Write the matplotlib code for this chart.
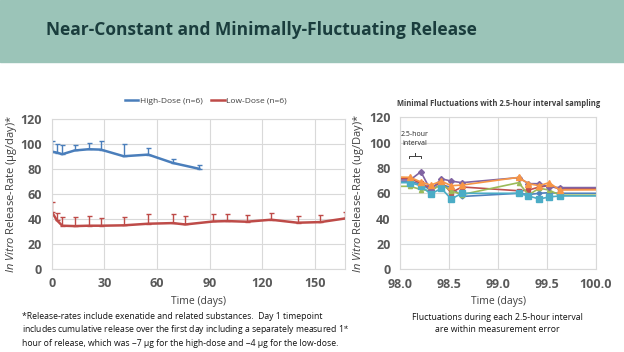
import numpy as np
import matplotlib
matplotlib.use('Agg')
import matplotlib.pyplot as plt
from matplotlib.patches import Rectangle

plt.rcParams['font.family'] = ['Open Sans', 'DejaVu Sans']
plt.rcParams['mathtext.fontset'] = 'custom'
plt.rcParams['mathtext.rm'] = 'Open Sans'
plt.rcParams['mathtext.it'] = 'Open Sans:italic'

# left chart: in vitro release rate, mean with upper error bar
high_days = [0, 3, 6, 13, 21, 28, 41, 55, 69, 84]
high_rate = [94.1, 93.3, 92.0, 95.0, 96.0, 95.7, 90.4, 91.7, 85.0, 80.3]
high_err = [8.5, 7.2, 7.0, 4.7, 5.0, 6.9, 9.6, 5.1, 3.3, 2.7]

low_days = [0, 3, 6, 13, 21, 28, 41, 55, 69, 76, 92, 100, 111, 125, 140, 153, 167]
low_rate = [45.9, 39.0, 34.7, 34.4, 34.7, 34.7, 35.0, 36.3, 36.8, 35.7, 38.1, 38.4, 37.9, 39.5, 37.1, 37.6, 40.5]
low_err = [8.0, 5.5, 6.9, 7.2, 7.7, 6.3, 6.6, 7.5, 7.5, 7.0, 6.2, 5.9, 5.6, 5.6, 5.3, 5.4, 5.4]

# right chart: 2.5-hour interval sampling, six units
fine_t = [97.9, 98.1, 98.21, 98.31, 98.42, 98.52, 98.63, 99.21, 99.31, 99.42, 99.52, 99.63, 100.6]
unit_rates = {
    'blue': [69.0, 69.0, 67.5, 62.5, 67.0, 64.5, 57.5, 60.0, 59.0, 60.0, 60.5, 60.0, 60.0],
    'red': [71.5, 71.5, 68.0, 64.0, 69.0, 60.5, 65.0, 62.0, 62.5, 65.0, 66.0, 63.5, 63.5],
    'green': [65.5, 65.5, 63.0, 62.0, 67.0, 62.0, 59.0, 68.4, 58.7, 64.0, 62.6, 58.5, 58.5],
    'purple': [70.5, 70.5, 77.0, 62.5, 71.5, 69.6, 68.4, 72.4, 67.6, 67.6, 65.0, 64.5, 64.5],
    'teal': [68.4, 68.4, 66.0, 59.4, 63.9, 55.5, 60.0, 60.0, 57.9, 55.5, 57.1, 57.9, 57.9],
    'orange': [73.0, 72.6, 69.0, 66.5, 69.6, 66.0, 66.5, 72.6, 67.6, 66.0, 68.4, 62.6, 63.0],
}
unit_colors = {'blue': '#4F81BD', 'red': '#C0504D', 'green': '#9BBB59',
               'purple': '#8064A2', 'teal': '#4BACC6', 'orange': '#F79646'}
unit_markers = {'blue': ('D', 2.5), 'red': ('s', 2.5), 'green': ('^', 3),
                'purple': ('D', 3), 'teal': ('s', 4), 'orange': ('^', 4)}

bracket_x = [98.09, 98.09, 98.15, 98.15, 98.15, 98.21, 98.21]
bracket_y = [87.5, 89.5, 89.5, 91.5, 89.5, 89.5, 87.5]

grid_c = '#D9D9D9'
tick_c = '#595959'

fig = plt.figure(figsize=(6.24, 3.52), dpi=100)

# banner
fig.patches.append(Rectangle((0, 1 - 62 / 352), 1, 62 / 352, transform=fig.transFigure,
                             color='#9BC4B8', zorder=0))
fig.text(261.5 / 624, 1 - 30 / 352, 'Near-Constant and Minimally-Fluctuating Release',
         ha='center', va='center', fontsize=12.5, fontweight='bold', color='#1A3D3D')


def style(ax):
    ax.grid(True, color=grid_c, lw=0.8)
    ax.set_axisbelow(True)
    for s in ax.spines.values():
        s.set_color(grid_c)
        s.set_linewidth(0.8)
    ax.tick_params(length=0, labelsize=9, labelcolor=tick_c)
    ax.tick_params(axis='y', pad=7)
    ax.tick_params(axis='x', pad=6)
    for lab in ax.get_xticklabels() + ax.get_yticklabels():
        lab.set_fontweight('bold')


# left chart
ax1 = fig.add_axes([51.7 / 624, 1 - 269 / 352, (345 - 51.7) / 624, (269 - 119.3) / 352])
ax1.errorbar(high_days, high_rate, yerr=[np.zeros(len(high_err)), high_err],
             color='#4A7EBB', lw=1.8, elinewidth=1, capsize=1.8, capthick=1,
             label='High-Dose (n=6)')
ax1.errorbar(low_days, low_rate, yerr=[np.zeros(len(low_err)), low_err],
             color='#BE4B48', lw=1.8, elinewidth=1, capsize=1.8, capthick=1,
             label='Low-Dose (n=6)')
ax1.set_xlim(0, 167)
ax1.set_ylim(0, 120)
ax1.set_xticks([0, 30, 60, 90, 120, 150])
ax1.set_yticks(range(0, 121, 20))
style(ax1)
ax1.set_xlabel('Time (days)', fontsize=7.5, color='#404040', labelpad=4)
ax1.set_ylabel(r'$\mathit{In\ Vitro}$ Release-Rate (µg/day)*', fontsize=8,
               color='#404040', labelpad=1)
h, l = ax1.get_legend_handles_labels()
h = [x[0] for x in h]
fig.legend(h, l, loc='center', bbox_to_anchor=(206 / 624, 1 - 101 / 352), ncol=2,
           frameon=False, fontsize=6, handlelength=1.6, handletextpad=0.2,
           columnspacing=1.0, labelcolor='#404040')

# right chart
ax2 = fig.add_axes([400.3 / 624, 1 - 269.3 / 352, (596 - 400.3) / 624, (269.3 - 117.3) / 352])
for k, vals in unit_rates.items():
    m, ms = unit_markers[k]
    ax2.plot(fine_t, vals, color=unit_colors[k], lw=1.2, marker=m, ms=ms)
ax2.plot(bracket_x, bracket_y, color='#404040', lw=0.7)
ax2.text(98.15, 103, '2.5-hour\ninterval', ha='center', va='center', fontsize=5,
         color='#262626', linespacing=1.3)
ax2.set_xlim(98.0, 100.0)
ax2.set_ylim(0, 120)
ax2.set_xticks([98.0, 98.5, 99.0, 99.5, 100.0])
ax2.set_xticklabels(['98.0', '98.5', '99.0', '99.5', '100.0'])
ax2.set_yticks(range(0, 121, 20))
style(ax2)
ax2.set_xlabel('Time (days)', fontsize=7.5, color='#404040', labelpad=4)
ax2.set_ylabel(r'$\mathit{In\ Vitro}$ Release-Rate (ug/Day)*', fontsize=8,
               color='#404040', labelpad=2)
ax2.set_title('Minimal Fluctuations with 2.5-hour interval sampling', fontsize=5.5,
              fontweight='bold', color='#404040', pad=8)

# footnotes
fig.text(22 / 624, 1 - 312 / 352,
         '*Release-rates include exenatide and related substances.  Day 1 timepoint\n'
         'includes cumulative release over the first day including a separately measured 1$^{\\mathrm{st}}$\n'
         'hour of release, which was ~7 µg for the high-dose and ~4 µg for the low-dose.',
         ha='left', va='top', fontsize=6.2, color='#111111', linespacing=1.25)
fig.text(497 / 624, 1 - 313 / 352,
         'Fluctuations during each 2.5-hour interval\nare within measurement error',
         ha='center', va='top', fontsize=6.3, color='#111111', linespacing=1.4)

fig.savefig('out.png', dpi=100)
